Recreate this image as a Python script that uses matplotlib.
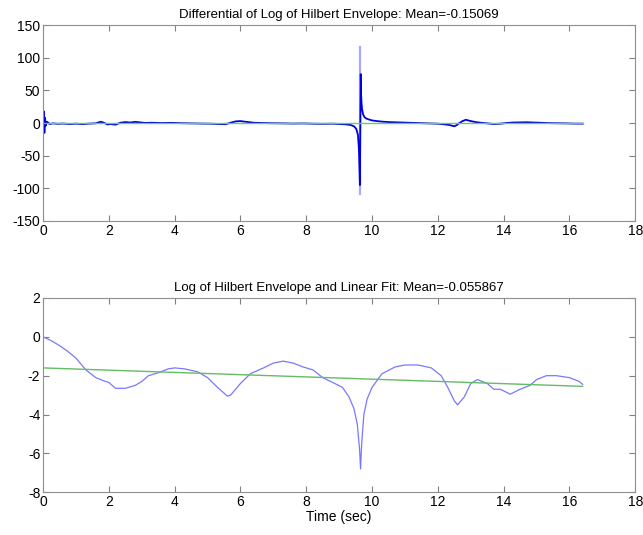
import numpy as np
import matplotlib.pyplot as plt

plt.rcParams['font.family'] = ['Liberation Sans', 'DejaVu Sans']
plt.rcParams['axes.unicode_minus'] = False

# differential of log envelope
t_diff = [0.0, 0.02, 0.04, 0.06, 0.08, 0.12, 0.2, 0.3, 0.45, 0.6, 0.8, 1.0,
          1.2, 1.4, 1.6, 1.75, 1.85, 1.95, 2.05, 2.2, 2.35, 2.5, 2.65, 2.8,
          2.95, 3.1, 3.3, 3.6, 3.9, 4.2, 4.5, 4.8, 5.1, 5.35, 5.55, 5.7,
          5.85, 6.0, 6.15, 6.4, 6.7, 7.0, 7.3, 7.6, 7.9, 8.2, 8.5, 8.8,
          9.0, 9.2, 9.35, 9.45, 9.52, 9.57, 9.6, 9.63, 9.655,
          9.665, 9.68, 9.7, 9.73, 9.77, 9.82, 9.9, 10.0, 10.15, 10.3, 10.5,
          10.8, 11.1, 11.4, 11.7, 12.0, 12.2, 12.35, 12.5, 12.58, 12.65,
          12.75, 12.85, 13.0, 13.15, 13.3, 13.5, 13.7, 13.9, 14.1, 14.3,
          14.5, 14.7, 14.9, 15.1, 15.3, 15.6, 15.9, 16.1, 16.4]
d_vals = [5.0, 18.0, -15.0, 8.0, -4.0, 2.0, -1.5, -0.5, -1.2, -0.8, -1.5, -1.0,
          -1.6, -0.9, -0.4, 2.0, 0.5, -2.2, -1.5, -2.5, 0.5, 1.5, 0.8, 1.8,
          1.0, 0.2, 0.5, 0.0, 0.3, -0.2, -0.5, -0.8, -1.0, -1.5, -1.8, 0.5,
          2.5, 3.0, 2.0, 0.5, 0.0, -0.3, -0.5, -0.8, -0.6, -1.0, -1.2, -1.0,
          -1.5, -2.0, -3.0, -5.0, -9.0, -18.0, -40.0, -95.0, 75.0,
          45.0, 30.0, 20.0, 13.0, 9.0, 7.0, 5.5, 4.0, 3.0, 2.2, 1.5,
          1.0, 0.5, 0.0, -0.5, -1.0, -2.0, -3.0, -5.0, -3.0, 0.0,
          3.0, 5.0, 3.0, 1.5, 0.5, -0.5, -1.5, -1.0, 0.2, 0.8,
          1.0, 1.2, 0.8, 0.5, 0.0, -0.3, -0.5, -0.8, -1.0]
# extremes of the big spike near 9.64 s (drawn faintly in the original)
spike_t = [9.645, 9.645]
spike_y = [-108.0, 117.0]
diff_mean = -0.15069

# log of hilbert envelope (bottom panel)
t_env = [0.0, 0.25, 0.5, 0.75, 1.0, 1.3, 1.6, 1.9, 2.0, 2.2, 2.5, 2.8,
         3.0, 3.2, 3.5, 3.8, 4.0, 4.3, 4.7, 5.0, 5.3, 5.6, 5.7, 6.0,
         6.3, 6.7, 7.0, 7.3, 7.6, 7.9, 8.2, 8.5, 8.8, 9.1, 9.3, 9.45,
         9.55, 9.62, 9.65, 9.68, 9.75, 9.85, 10.0, 10.3, 10.7, 11.0, 11.4,
         11.8, 12.1, 12.3, 12.5, 12.6, 12.8, 13.0, 13.2, 13.5, 13.7, 13.9,
         14.2, 14.5, 14.8, 15.0, 15.3, 15.6, 16.0, 16.3, 16.4]
log_env = [0.0, -0.2, -0.45, -0.75, -1.1, -1.7, -2.1, -2.3, -2.35, -2.65, -2.65, -2.5,
           -2.3, -2.0, -1.85, -1.65, -1.6, -1.65, -1.8, -2.1, -2.6, -3.05, -3.0, -2.4,
           -1.9, -1.6, -1.35, -1.25, -1.35, -1.55, -1.7, -2.1, -2.35, -2.6, -3.1, -3.7,
           -4.5, -5.8, -6.8, -5.6, -4.0, -3.2, -2.6, -1.9, -1.55, -1.45, -1.45,
           -1.6, -2.0, -2.6, -3.3, -3.5, -3.1, -2.4, -2.2, -2.4, -2.7, -2.7,
           -2.95, -2.7, -2.5, -2.2, -2.0, -2.0, -2.1, -2.3, -2.45]
fit_t = [0.0, 16.4]
fit_y = [-1.6, -2.55]
env_mean = -0.055867

fig = plt.figure(figsize=(6.43, 5.35), dpi=100)
ax1 = fig.add_axes([0.067, 0.587, 0.921, 0.366])
ax2 = fig.add_axes([0.067, 0.080, 0.921, 0.363])

ax1.plot(spike_t, spike_y, color='#a8a8ff', lw=1.6)
ax1.plot(t_diff, d_vals, color='#0000e0', lw=1.3)
ax1.plot([0, 16.4], [diff_mean, diff_mean], color='#66cc66', lw=1.0)
ax1.set_xlim(0, 18)
ax1.set_ylim(-150, 150)
ax1.set_yticks(range(-150, 151, 50))
ax1.set_title('Differential of Log of Hilbert Envelope: Mean=%g' % diff_mean,
              fontsize=9.5, pad=5)

ax2.plot(t_env, log_env, color='#7878ff', lw=0.9)
ax2.plot(fit_t, fit_y, color='#66bb66', lw=1.0)
ax2.set_xlim(0, 18)
ax2.set_ylim(-8, 2)
ax2.set_yticks(range(-8, 3, 2))
ax2.set_title('Log of Hilbert Envelope and Linear Fit: Mean=%g' % env_mean,
              fontsize=9.5, pad=5)
ax2.set_xlabel('Time (sec)', fontsize=10, labelpad=1)

for ax in (ax1, ax2):
    ax.set_xticks(range(0, 19, 2))
    ax.tick_params(direction='in', top=True, right=True, length=4,
                   labelsize=10, color='#808080', pad=2)
    for s in ax.spines.values():
        s.set_color('#909090')

fig.savefig('out.png', dpi=100)
